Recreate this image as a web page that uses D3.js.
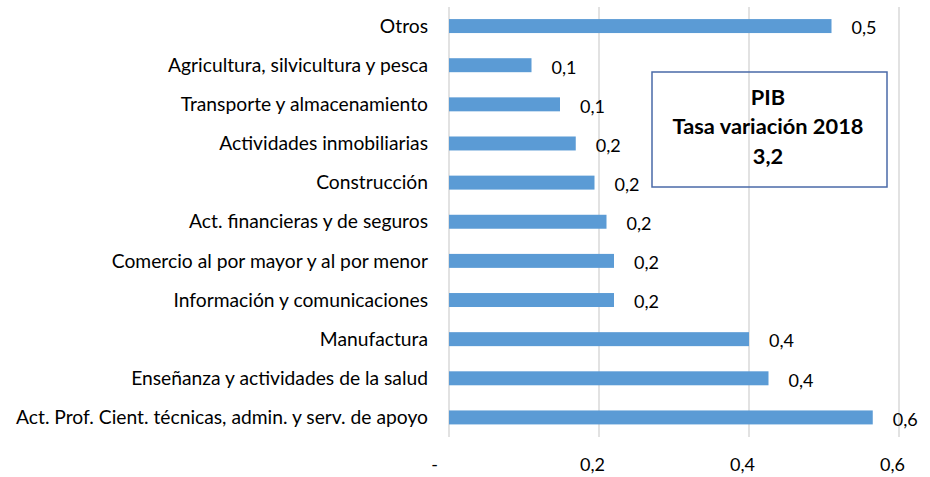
<!DOCTYPE html>
<html>
<head>
<meta charset="utf-8">
<script src="https://cdn.jsdelivr.net/npm/d3@7"></script>
<style>
  body { margin: 0; background: #fff; }
  svg { display: block; }
</style>
</head>
<body>
<svg id="chart" width="930" height="477"></svg>
<script>
const categories = [
    'Otros',
    'Agricultura, silvicultura y pesca',
    'Transporte y almacenamiento',
    'Actividades inmobiliarias',
    'Construcción',
    'Act. financieras y de seguros',
    'Comercio al por mayor y al por menor',
    'Información y comunicaciones',
    'Manufactura',
    'Enseñanza y actividades de la salud',
    'Act. Prof. Cient. técnicas, admin. y serv. de apoyo'
]
const values = [0.51, 0.11, 0.148, 0.169, 0.194, 0.21, 0.22, 0.22, 0.40, 0.426, 0.565]
const tickValues = [0, 0.2, 0.4, 0.6]
const boxLines = ['PIB', 'Tasa variación 2018', '3,2']

const FONT = 'Lato, "Open Sans", sans-serif'
const fmt = v => d3.format('.1f')(v).replace('.', ',')

const svg = d3.select('#chart')

const x = d3.scaleLinear()
    .domain([0, 0.6])
    .range([449, 899])

const y = d3.scaleBand()
    .domain(categories)
    .range([6.5, 437])
    .paddingInner(0.643)
    .paddingOuter(0.3215)

// work out a font size that gives "0,2" the width it has in the original
let probe = svg.append('text')
    .style('font-family', FONT)
    .style('font-size', '16px')
    .text('0,2')
const numSize = (16 * 25 / probe.node().getComputedTextLength()).toFixed(2) + 'px'
probe.remove()

// gridlines
svg.append('g')
    .selectAll('line')
    .data(tickValues)
    .enter().append('line')
    .attr('x1', d => x(d))
    .attr('x2', d => x(d))
    .attr('y1', 7)
    .attr('y2', 437)
    .attr('stroke', '#d9d9d9')
    .attr('stroke-width', 1.5)

// bars
svg.append('g')
    .selectAll('rect')
    .data(values)
    .enter().append('rect')
    .attr('x', x(0))
    .attr('y', (d, i) => y(categories[i]))
    .attr('width', d => x(d) - x(0))
    .attr('height', y.bandwidth())
    .attr('fill', '#5b9bd5')

// data labels
svg.append('g')
    .selectAll('text')
    .data(values)
    .enter().append('text')
    .attr('x', d => x(d) + 20)
    .attr('y', (d, i) => y(categories[i]) + y.bandwidth() / 2 + 2)
    .attr('dy', '0.35em')
    .style('font-family', FONT)
    .style('font-size', numSize)
    .attr('fill', '#000')
    .text(d => fmt(d))

// category labels, sized so the longest one fits the space like the original
let cats = svg.append('g')
    .selectAll('text')
    .data(categories)
    .enter().append('text')
    .attr('x', 428)
    .attr('y', d => y(d) + y.bandwidth() / 2)
    .attr('dy', '0.35em')
    .attr('text-anchor', 'end')
    .style('font-family', FONT)
    .style('font-size', '16px')
    .attr('fill', '#000')
    .text(d => d)
let longest = d3.max(cats.nodes(), n => n.getComputedTextLength())
cats.style('font-size', (16 * 412 / longest).toFixed(2) + 'px')

// x axis
const xAxis = d3.axisBottom(x)
    .tickValues(tickValues)
    .tickSize(0)
    .tickFormat(d => d === 0 ? '-' : fmt(d))

let axG = svg.append('g')
    .attr('transform', 'translate(0,465)')
    .call(xAxis)
axG.select('.domain').remove()
axG.selectAll('text')
    .attr('y', 0)
    .attr('dy', '0.35em')
    .attr('dx', d => d === 0 ? -15 : -7)
    .style('font-family', FONT)
    .style('font-size', numSize)
    .attr('fill', '#000')

// PIB box
svg.append('rect')
    .attr('x', 652)
    .attr('y', 72)
    .attr('width', 235)
    .attr('height', 115)
    .attr('fill', 'none')
    .attr('stroke', '#4a6aa8')
    .attr('stroke-width', 1.5)

let boxT = svg.append('g')
    .selectAll('text')
    .data(boxLines)
    .enter().append('text')
    .attr('x', 768)
    .attr('y', (d, i) => 97 + i * 29.5)
    .attr('dy', '0.35em')
    .attr('text-anchor', 'middle')
    .style('font-family', FONT)
    .style('font-weight', 'bold')
    .style('font-size', '19px')
    .attr('fill', '#000')
    .text(d => d)
let wide = boxT.filter((d, i) => i === 1).node().getComputedTextLength()
boxT.style('font-size', (19 * 191 / wide).toFixed(2) + 'px')
</script>
</body>
</html>
